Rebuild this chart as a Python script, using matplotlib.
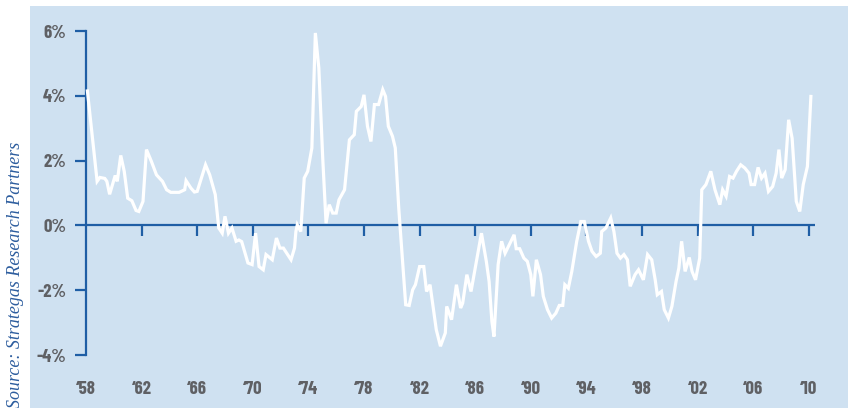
#!/usr/bin/env python3

import matplotlib
matplotlib.use('Agg')
import matplotlib.pyplot as plt
from matplotlib.patches import Rectangle

# Values (year, percent)
years = [1958.1, 1958.8, 1959.0, 1959.35, 1959.5, 1959.7, 1960.1, 1960.25, 1960.5, 1960.75,
         1961.0, 1961.3, 1961.6, 1961.8, 1962.1, 1962.35, 1962.7, 1963.07, 1963.5, 1963.8,
         1964.1, 1964.7, 1965.1, 1965.2, 1965.55, 1965.8, 1966.0, 1966.6, 1966.9, 1967.3,
         1967.55, 1967.8, 1968.0, 1968.25, 1968.5, 1968.8, 1969.0, 1969.2, 1969.65, 1969.95,
         1970.2, 1970.45, 1970.75, 1970.95, 1971.4, 1971.7, 1971.95, 1972.2, 1972.75, 1973.0,
         1973.1, 1973.2, 1973.45, 1973.7, 1973.95, 1974.25, 1974.5, 1974.75, 1975.03, 1975.27,
         1975.5, 1975.75, 1976.0, 1976.2, 1976.6, 1976.95, 1977.3, 1977.45, 1977.8, 1978.0,
         1978.25, 1978.5, 1978.75, 1979.05, 1979.35, 1979.55, 1979.75, 1980.05, 1980.25, 1980.5,
         1981.0, 1981.25, 1981.5, 1981.7, 1982.0, 1982.3, 1982.5, 1982.75, 1982.95, 1983.2,
         1983.5, 1983.85, 1983.95, 1984.3, 1984.65, 1984.95, 1985.1, 1985.4, 1985.7, 1986.0,
         1986.45, 1986.8, 1987.0, 1987.2, 1987.35, 1987.65, 1987.9, 1988.15, 1988.5, 1988.8,
         1988.95, 1989.2, 1989.5, 1989.75, 1990.0, 1990.15, 1990.4, 1990.7, 1990.9, 1991.2,
         1991.5, 1991.8, 1992.05, 1992.3, 1992.45, 1992.7, 1992.95, 1993.3, 1993.6, 1993.85,
         1994.15, 1994.4, 1994.7, 1995.0, 1995.1, 1995.4, 1995.75, 1995.98, 1996.2, 1996.45,
         1996.7, 1996.95, 1997.15, 1997.5, 1997.75, 1998.1, 1998.4, 1998.7, 1998.95, 1999.1,
         1999.4, 1999.6, 1999.9, 2000.15, 2000.45, 2000.65, 2000.85, 2001.1, 2001.4, 2001.6,
         2001.85, 2002.15, 2002.3, 2002.6, 2002.95, 2003.25, 2003.6, 2003.8, 2004.05, 2004.3,
         2004.55, 2004.8, 2005.1, 2005.4, 2005.7, 2005.85, 2006.1, 2006.35, 2006.6, 2006.85,
         2007.1, 2007.4, 2007.65, 2007.85, 2008.05, 2008.3, 2008.55, 2008.8, 2009.1, 2009.35,
         2009.6, 2009.9, 2010.15]
values = [4.15, 1.36, 1.48, 1.45, 1.36, 0.96, 1.54, 1.36, 2.16, 1.67,
          0.84, 0.76, 0.46, 0.43, 0.74, 2.34, 1.98, 1.56, 1.36, 1.10,
          1.02, 1.02, 1.10, 1.38, 1.15, 1.03, 1.05, 1.87, 1.56, 0.95,
          -0.08, -0.24, 0.28, -0.24, -0.08, -0.49, -0.45, -0.50, -1.16, -1.21,
          -0.24, -1.27, -1.37, -0.90, -1.06, -0.39, -0.70, -0.70, -1.06, -0.70,
          -0.19, 0.02, -0.19, 1.46, 1.67, 2.39, 5.94, 4.86, 2.08, 0.07,
          0.64, 0.38, 0.38, 0.79, 1.10, 2.64, 2.80, 3.52, 3.67, 4.03,
          3.06, 2.59, 3.73, 3.73, 4.19, 3.98, 3.06, 2.75, 2.39, 0.53,
          -2.45, -2.47, -1.99, -1.83, -1.27, -1.27, -2.04, -1.83, -2.45, -3.22,
          -3.73, -3.32, -2.50, -2.91, -1.83, -2.55, -2.40, -1.52, -2.04, -1.32,
          -0.24, -1.11, -1.73, -2.96, -3.43, -1.21, -0.49, -0.86, -0.55, -0.29,
          -0.72, -0.72, -1.01, -1.11, -1.52, -2.19, -1.06, -1.52, -2.19, -2.60,
          -2.86, -2.71, -2.47, -2.47, -1.83, -1.94, -1.42, -0.50, 0.12, 0.12,
          -0.49, -0.80, -0.96, -0.86, -0.19, -0.08, 0.23, -0.19, -0.86, -1.01,
          -0.90, -1.06, -1.88, -1.52, -1.37, -1.68, -0.90, -1.06, -1.68, -2.14,
          -2.04, -2.60, -2.86, -2.50, -1.73, -1.32, -0.49, -1.42, -0.99, -1.42,
          -1.68, -1.01, 1.10, 1.26, 1.67, 1.10, 0.64, 1.10, 0.90, 1.51,
          1.46, 1.67, 1.87, 1.77, 1.61, 1.26, 1.26, 1.79, 1.46, 1.61,
          1.05, 1.20, 1.61, 2.34, 1.46, 1.72, 3.26, 2.69, 0.74, 0.43,
          1.26, 1.82, 3.98]

y_ticks = [-4, -2, 0, 2, 4, 6]
y_labels = ['-4%', '-2%', '0%', '2%', '4%', '6%']
x_ticks = list(range(1958, 2011, 4))
x_labels = ['\u2018%02d' % (y % 100) for y in x_ticks]

panel_color = '#cfe1f1'
axis_color = '#1f5ea5'
text_gray = '#5f6064'
font = ['Barlow Condensed', 'DejaVu Sans']

W, H = 848, 408
fig = plt.figure(figsize=(W / 100, H / 100), dpi=100, facecolor='white')

# light blue panel behind the chart
fig.patches.append(Rectangle((30 / W, 0), 1 - 30 / W, 402 / H, transform=fig.transFigure,
                             facecolor=panel_color, edgecolor='none', zorder=-10))

x0, x1 = 1958, 2010.45
left_px, right_px = 86, 86 + (x1 - x0) * 13.9
top_px, bot_px = 31, 355
ax = fig.add_axes([left_px / W, (H - bot_px) / H, (right_px - left_px) / W, (bot_px - top_px) / H])
ax.set_facecolor('none')
ax.set_xlim(x0, x1)
ax.set_ylim(-4, 6)

ax.plot(years, values, color='white', linewidth=2.3, solid_joinstyle='miter', clip_on=False, zorder=3)

for s in ['top', 'right', 'bottom']:
    ax.spines[s].set_visible(False)
ax.spines['left'].set_color(axis_color)
ax.spines['left'].set_linewidth(1.6)

ax.set_yticks(y_ticks)
ax.set_yticklabels(y_labels)
ax.tick_params(axis='y', direction='out', length=8, width=1.6, color=axis_color, pad=6,
               labelsize=13.5, labelcolor=text_gray)

ax.set_xticks(x_ticks)
ax.set_xticklabels(x_labels)
ax.tick_params(axis='x', length=0, pad=19, labelsize=13.5, labelcolor=text_gray)

# zero line with ticks hanging below it
ax.axhline(0, color=axis_color, linewidth=1.6, zorder=2)
zero_axis = ax.secondary_xaxis(0, transform=ax.transData)
zero_axis.spines['bottom'].set_visible(False)
zero_axis.set_xticks(x_ticks[1:])
zero_axis.set_xticklabels([])
zero_axis.tick_params(axis='x', direction='out', length=8, width=1.6, color=axis_color)

for lab in ax.get_xticklabels() + ax.get_yticklabels():
    lab.set_family(font)
    lab.set_fontweight('bold')

fig.text(16 / W, 0.0, 'Source: Strategas Research Partners', rotation=90, ha='center', va='bottom',
         fontsize=13, style='italic', color='#2d5d9e', family=['Liberation Serif', 'DejaVu Serif'])

fig.savefig('out.png', dpi=100, facecolor='white')
